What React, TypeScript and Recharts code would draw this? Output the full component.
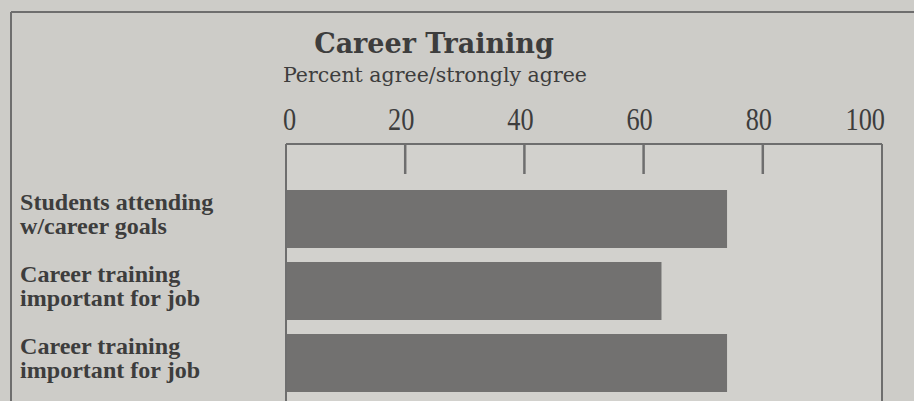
import React from 'react';
import { BarChart, Bar, XAxis, YAxis, CartesianGrid } from 'recharts';

// ---- data ----
const CATEGORIES = [
  'Students attending\nw/career goals',
  'Career training\nimportant for job',
  'Career training\nimportant for job',
];
const VALUES = [74, 63, 74];
const X_TICKS = [0, 20, 40, 60, 80, 100];
const TITLE = 'Career Training';
const SUBTITLE = 'Percent agree/strongly agree';

const data = CATEGORIES.map((name, i) => ({ name, value: VALUES[i] }));

// ---- styles ----
const BG = '#cdccc8';
const BOX_BG = '#d2d1cd';
const BAR = '#727170';
const INK = '#3d3d3d';
const LINE = '#6e6e6e';

const TopTick = (props: any) => {
  const { x, y, payload } = props;
  const v = payload.value;
  const isFirst = v === X_TICKS[0];
  const isLast = v === X_TICKS[X_TICKS.length - 1];
  const anchor = isFirst ? 'start' : isLast ? 'end' : 'middle';
  const dx = isFirst ? -3 : isLast ? 3 : -4;
  return (
    <g>
      <text
        transform={`translate(${x + dx},${y - 14}) scale(0.85,1)`}
        textAnchor={anchor}
        fontFamily="'Liberation Serif', serif"
        fontSize={31}
        fill={INK}
      >
        {v}
      </text>
      {!isFirst && !isLast && (
        <line x1={x} x2={x} y1={y} y2={y + 30} stroke={LINE} strokeWidth={2.5} />
      )}
    </g>
  );
};

const LeftTick = (props: any) => {
  const { x, y, payload } = props;
  const lines = String(payload.value).split('\n');
  return (
    <g>
      {lines.map((l, i) => (
        <text
          key={i}
          transform={`translate(${x - 266},${y - 9 + i * 24}) scale(1.07,1)`}
          textAnchor="start"
          fontFamily="'Liberation Serif', serif"
          fontWeight="bold"
          fontSize={22.5}
          fill={INK}
        >
          {l}
        </text>
      ))}
    </g>
  );
};

export default function App() {
  return (
    <div style={{ position: 'relative', width: 914, height: 401, overflow: 'hidden', background: BG }}>
      <style>{`body{margin:0}`}</style>
      <svg width={914} height={401} style={{ position: 'absolute', left: 0, top: 0 }}>
        <line x1={11} y1={12} x2={914} y2={12} stroke={LINE} strokeWidth={2} />
        <line x1={11} y1={12} x2={11} y2={401} stroke={LINE} strokeWidth={2} />
        <text
          x={434}
          y={53}
          textAnchor="middle"
          fontFamily="'DejaVu Serif', serif"
          fontWeight="bold"
          fontSize={27}
          fill={INK}
        >
          {TITLE}
        </text>
        <text x={283} y={82} textAnchor="start" fontFamily="'DejaVu Serif', serif" fontSize={20.5} fill={INK}>
          {SUBTITLE}
        </text>
      </svg>
      <div style={{ position: 'absolute', left: 0, top: 0 }}>
        <BarChart
          width={914}
          height={430}
          data={data}
          layout="vertical"
          margin={{ top: 104, right: 30, bottom: 26, left: 0 }}
        >
          <CartesianGrid horizontal={false} vertical={false} fill={BOX_BG} fillOpacity={1} />
          <XAxis
            type="number"
            orientation="top"
            domain={[0, 100]}
            ticks={X_TICKS}
            interval={0}
            height={40}
            tickSize={0}
            tickMargin={0}
            tickLine={false}
            axisLine={{ stroke: LINE, strokeWidth: 2 }}
            tick={<TopTick />}
          />
          <YAxis
            yAxisId="left"
            type="category"
            dataKey="name"
            width={286}
            padding={{ top: 39, bottom: 5 }}
            tickSize={0}
            tickMargin={0}
            tickLine={false}
            axisLine={{ stroke: LINE, strokeWidth: 2 }}
            tick={<LeftTick />}
            interval={0}
          />
          <YAxis
            yAxisId="right"
            orientation="right"
            type="category"
            dataKey="name"
            width={2}
            padding={{ top: 39, bottom: 5 }}
            tick={false}
            tickLine={false}
            axisLine={{ stroke: LINE, strokeWidth: 2 }}
          />
          <Bar yAxisId="left" dataKey="value" fill={BAR} barSize={58} isAnimationActive={false} />
        </BarChart>
      </div>
    </div>
  );
}
